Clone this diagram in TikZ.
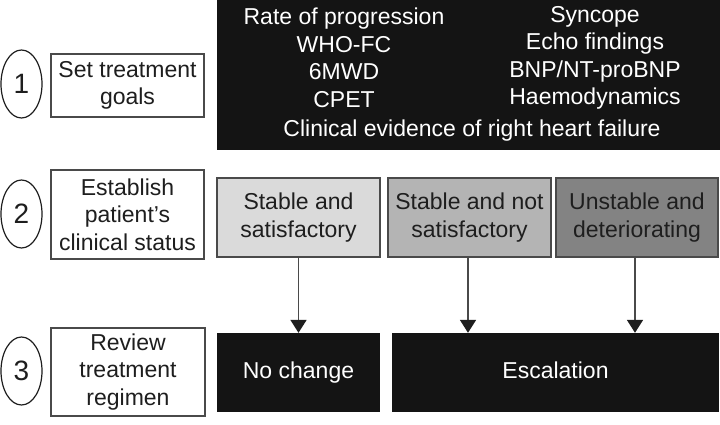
\documentclass[tikz,border=0pt]{standalone}
\usepackage{fontspec}
\setmainfont{Liberation Sans}
\usetikzlibrary{shapes.geometric,arrows.meta}
\definecolor{blk}{HTML}{141414}
\definecolor{gA}{HTML}{DADADA}
\definecolor{gB}{HTML}{B4B4B4}
\definecolor{gC}{HTML}{838383}
\definecolor{edge}{HTML}{4A4A4A}
\definecolor{txt}{HTML}{1E1E1E}
\tikzset{
  every node/.style={font=\fontsize{23}{27.5}\selectfont, inner sep=0pt, align=center},
  numcirc/.style={ellipse, draw=txt, line width=1.2pt, minimum width=41pt, minimum height=68pt, text=txt, font=\fontsize{28}{30}\selectfont},
  stepbox/.style={rectangle, draw=edge, line width=1.1pt, fill=white, minimum width=153pt, text=txt},
  darkbox/.style={rectangle, fill=blk, text=white, minimum height=79pt, text height=17pt, text depth=5pt},
  statbox/.style={rectangle, draw=edge, line width=1.1pt, minimum width=163pt, minimum height=79pt, text=txt},
  flow/.style={draw=edge, line width=1.8pt, -{Triangle[width=16pt,length=13pt,color=txt]}}
}
\begin{document}
\begin{tikzpicture}[x=1pt,y=-1pt]
\useasboundingbox[fill=white] (0,0) rectangle (720,424);
% left column
\node[numcirc] (c1) at (21.5,84) {1};
\node[numcirc] (c2) at (21.5,214) {2};
\node[numcirc] (c3) at (21.5,371) {3};
\node[stepbox, minimum height=63pt] (s1) at (127.5,85.5) {Set treatment\\goals};
\node[stepbox, minimum height=89pt] (s2) at (127.5,214.5) {Establish\\patient’s\\clinical status};
\node[stepbox, minimum width=154pt, minimum height=88pt] (s3) at (128,372) {Review\\treatment\\regimen};
% top goals box
\node[rectangle, fill=blk, minimum width=503pt, minimum height=150pt] (goals) at (468.5,75) {};
\node[text=white] (gl) at (344,58) {Rate of progression\\WHO-FC\\6MWD\\CPET};
\node[text=white] (gr) at (595,58) {Syncope\\Echo findings\\BNP/NT-proBNP\\Haemodynamics};
\node[text=white] (gb) at (472,131) {Clinical evidence of right heart failure};
% status boxes
\node[statbox, fill=gA] (sa) at (298.5,217.5) {Stable and\\satisfactory};
\node[statbox, fill=gB] (sb) at (469.5,217.5) {Stable and not\\satisfactory};
\node[statbox, fill=gC, minimum width=162pt] (sc) at (637,217.5) {Unstable and\\deteriorating};
% outcome boxes
\node[darkbox, minimum width=163pt] (nc) at (298.5,372.5) {No change};
\node[darkbox, minimum width=327pt] (esc) at (555.5,372.5) {Escalation};
% arrows
\draw[flow] (sa.south) -- (nc.north);
\draw[flow] ([xshift=-1.5pt]sb.south) -- ([xshift=-1.5pt]sb.south |- esc.north);
\draw[flow] ([xshift=-2pt]sc.south) -- ([xshift=-2pt]sc.south |- esc.north);
\end{tikzpicture}
\end{document}
